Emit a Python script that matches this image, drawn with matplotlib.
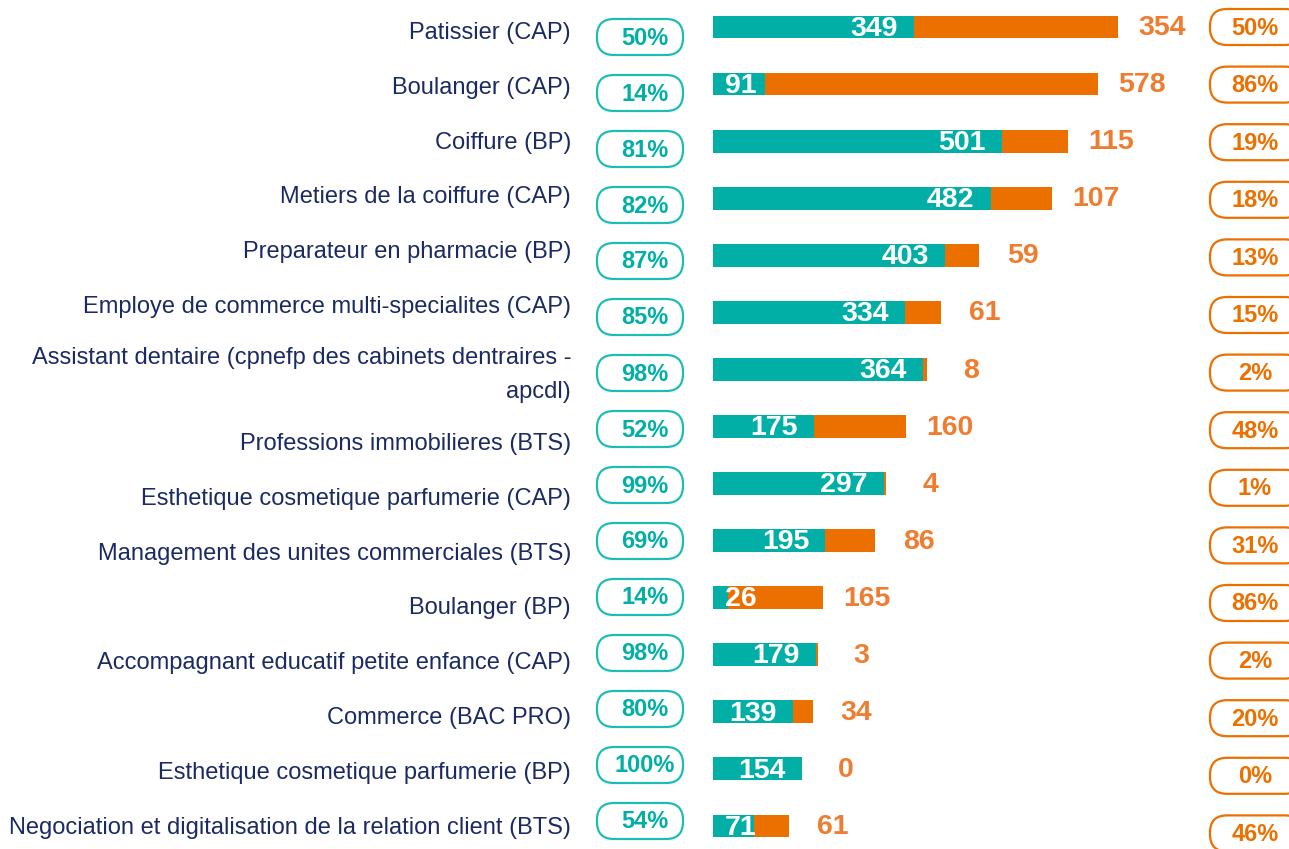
import matplotlib.pyplot as plt
from matplotlib.patches import FancyBboxPatch

categories = [
    "Patissier (CAP)",
    "Boulanger (CAP)",
    "Coiffure (BP)",
    "Metiers de la coiffure (CAP)",
    "Preparateur en pharmacie (BP)",
    "Employe de commerce multi-specialites (CAP)",
    "Assistant dentaire (cpnefp des cabinets dentraires -\napcdl)",
    "Professions immobilieres (BTS)",
    "Esthetique cosmetique parfumerie (CAP)",
    "Management des unites commerciales (BTS)",
    "Boulanger (BP)",
    "Accompagnant educatif petite enfance (CAP)",
    "Commerce (BAC PRO)",
    "Esthetique cosmetique parfumerie (BP)",
    "Negociation et digitalisation de la relation client (BTS)",
]
teal_vals = [349, 91, 501, 482, 403, 334, 364, 175, 297, 195, 26, 179, 139, 154, 71]
orange_vals = [354, 578, 115, 107, 59, 61, 8, 160, 4, 86, 165, 3, 34, 0, 61]

TEAL = "#02AFA6"
TEAL_EDGE = "#1DBDB3"
ORANGE = "#EC7000"
ORANGE_TXT = "#EF7D31"
NAVY = "#1B2A63"

plt.rcParams["font.family"] = ["Liberation Sans", "DejaVu Sans"]

W, H = 1289, 849
fig = plt.figure(figsize=(W / 100, H / 100), dpi=100)

# overlay in pixel coordinates for labels and pills
ov = fig.add_axes([0, 0, 1, 1])
ov.set_xlim(0, W)
ov.set_ylim(H, 0)
ov.axis("off")

# bar axes: 0.576 px per unit, bars start at x=713
px_per_unit = 0.576
row_px = 57.07
ax = fig.add_axes([713 / W, 0, (W - 713) / W, 1])
ax.set_xlim(0, (W - 713) / px_per_unit)
ax.set_ylim((H - 27) / row_px, -27 / row_px)
ax.axis("off")
ax.patch.set_alpha(0)

n = len(categories)
rows = list(range(n))
totals = [a + b for a, b in zip(teal_vals, orange_vals)]

ax.barh(rows, teal_vals, height=0.40, color=TEAL)
ax.barh(rows, orange_vals, left=teal_vals, height=0.40, color=ORANGE)

pad = 28
for i in rows:
    ax.text(max(teal_vals[i] - pad, 76), i + 0.03, str(teal_vals[i]),
            ha="right", va="center", color="white", fontsize=20.5,
            fontweight="bold")
    ax.text(totals[i] + 76, i + 0.02, str(orange_vals[i]),
            ha="center", va="center", color=ORANGE_TXT, fontsize=20.5,
            fontweight="bold")

# category labels
for i, lab in enumerate(categories):
    if i < 6:
        y = 33 + 54.8 * i
    elif i == 6:
        y = 375
    else:
        y = 444 + 54.8 * (i - 7)
    ov.text(571, y, lab, ha="right", va="center", multialignment="right",
            color=NAVY, fontsize=17, linespacing=1.7)


def pill(x0, w, yc, txt, tx, edge, tcol):
    h = 36
    p = FancyBboxPatch((x0, yc - h / 2), w, h,
                       boxstyle="round,pad=0,rounding_size=17",
                       fc="white", ec=edge, lw=1.6, clip_on=False)
    ov.add_patch(p)
    ov.text(tx, yc + 1, txt, ha="center", va="center", color=tcol,
            fontsize=17, fontweight="bold")


for i in rows:
    t = totals[i]
    pe = int(teal_vals[i] * 100 / t + 0.5)
    po = int(orange_vals[i] * 100 / t + 0.5)
    pill(597, 86, 37 + 56 * i, f"{pe}%", 645, TEAL_EDGE, TEAL)
    pill(1210, 92, 27 + 57.6 * i, f"{po}%", 1255, ORANGE, ORANGE)

fig.savefig("out.png", dpi=100)
